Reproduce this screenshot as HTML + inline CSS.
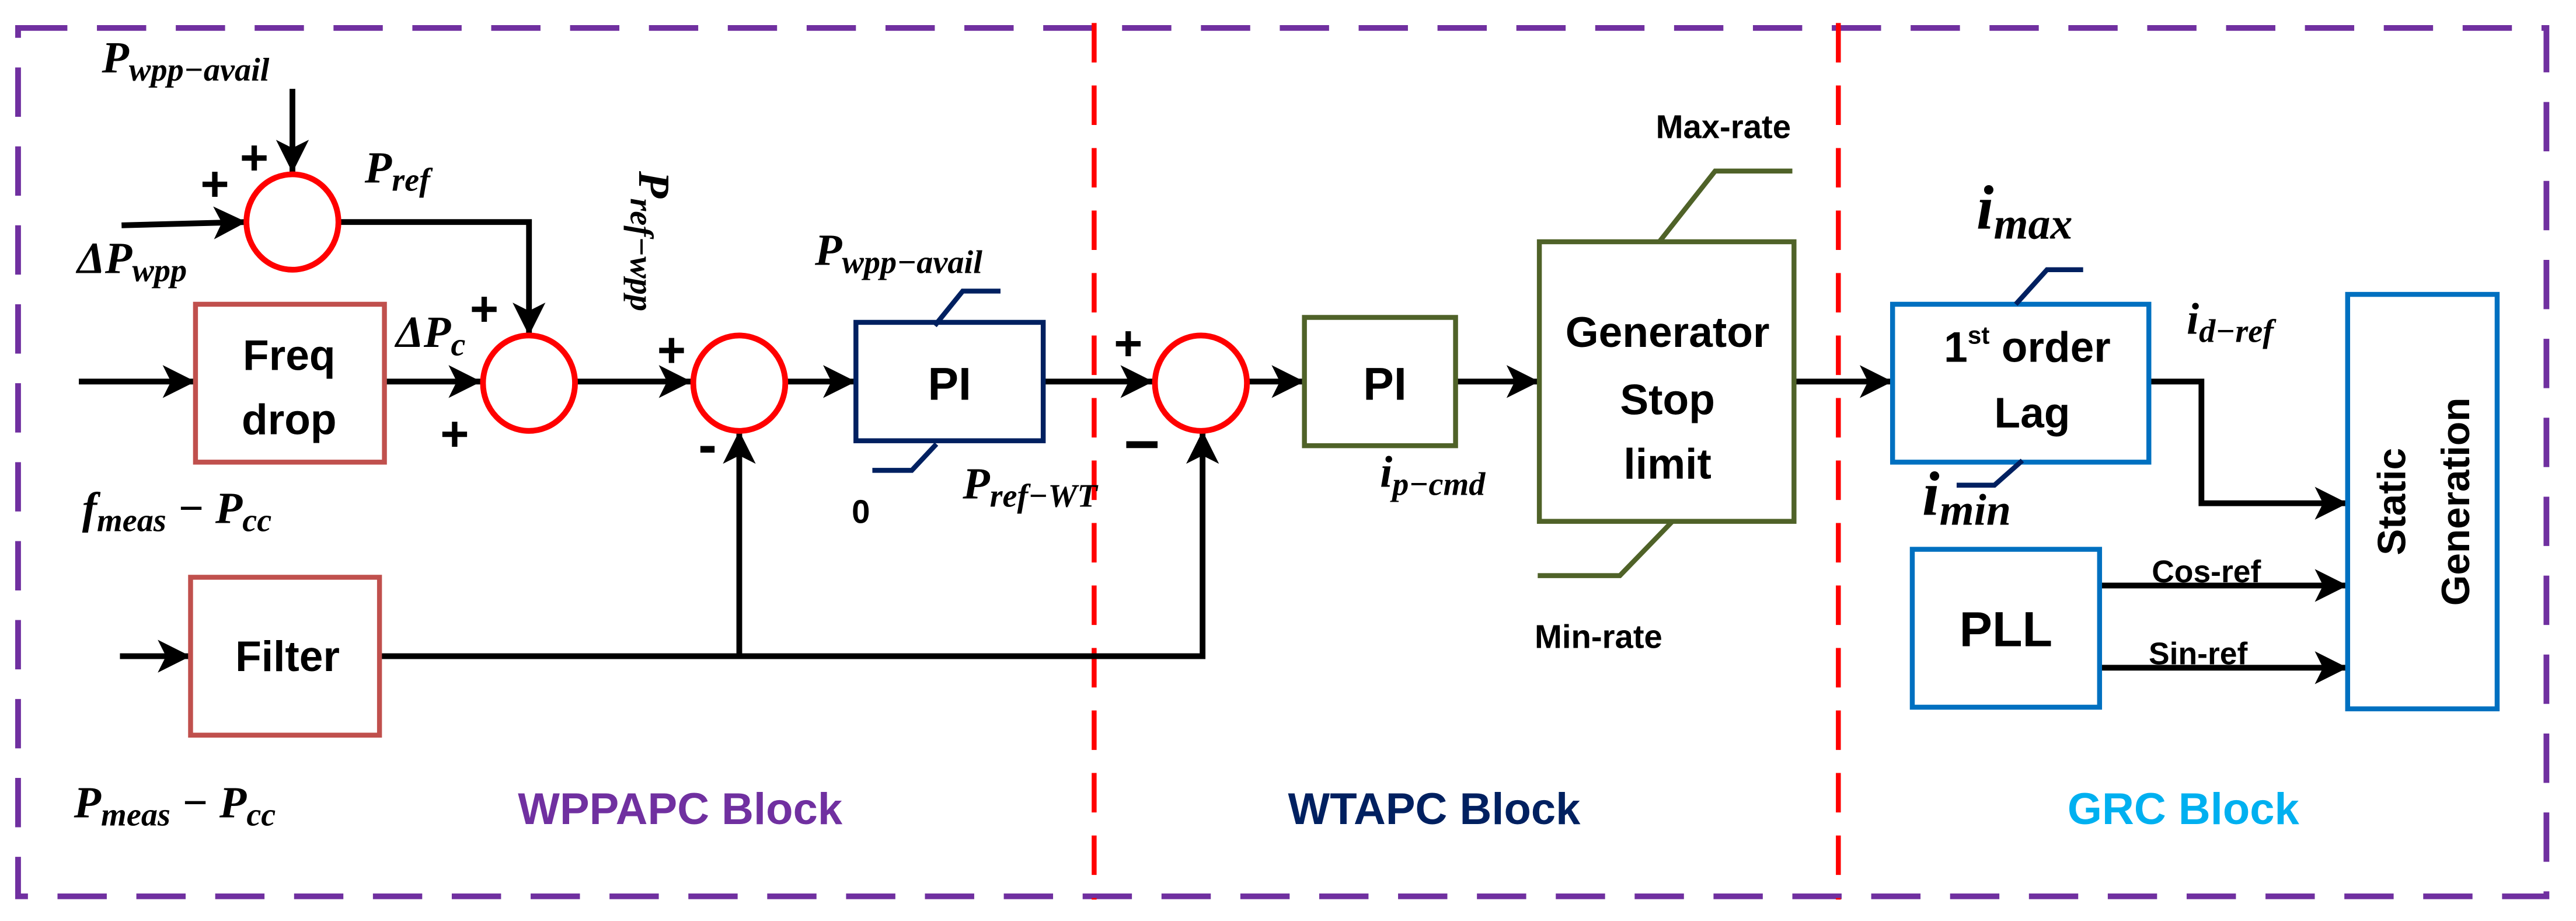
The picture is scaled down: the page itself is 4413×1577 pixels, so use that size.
<!DOCTYPE html>
<html><head><meta charset="utf-8"><style>
html,body{margin:0;padding:0;background:#fff}
svg{display:block}
.m{font-family:"Liberation Serif",serif;font-style:italic;font-weight:bold}
.s{font-family:"Liberation Sans Narrow","Liberation Sans",sans-serif;font-weight:bold}
</style></head><body>
<svg width="4413" height="1577" viewBox="0 0 1568 560" preserveAspectRatio="none" xmlns="http://www.w3.org/2000/svg">
<defs>
<marker id="a" markerUnits="userSpaceOnUse" markerWidth="22" markerHeight="22" refX="20" refY="10" orient="auto">
<path d="M0,0 L20,10 L0,20 L5,10 Z" fill="#000"/></marker>
</defs>
<rect width="1568" height="560" fill="#fff"/>
<!-- outer dashed -->
<rect x="11" y="17" width="1539" height="528" fill="none" stroke="#7030A0" stroke-width="3.5" stroke-dasharray="30,18"/>
<line x1="666" y1="14" x2="666" y2="547" stroke="#FF0000" stroke-width="3" stroke-dasharray="24,14"/>
<line x1="1119" y1="14" x2="1119" y2="547" stroke="#FF0000" stroke-width="3" stroke-dasharray="24,14"/>

<g fill="none" stroke="#000" stroke-width="3.5">
<line x1="178" y1="54" x2="178" y2="105" marker-end="url(#a)"/>
<line x1="74" y1="137" x2="150" y2="135" marker-end="url(#a)"/>
<polyline points="207,135 322,135 322,204" marker-end="url(#a)"/>
<line x1="48" y1="232" x2="119" y2="232" marker-end="url(#a)"/>
<line x1="234" y1="232" x2="293" y2="232" marker-end="url(#a)"/>
<line x1="351" y1="232" x2="421" y2="232" marker-end="url(#a)"/>
<line x1="479" y1="232" x2="521" y2="232" marker-end="url(#a)"/>
<line x1="635" y1="232" x2="702" y2="232" marker-end="url(#a)"/>
<line x1="760" y1="232" x2="794" y2="232" marker-end="url(#a)"/>
<line x1="886" y1="232" x2="937" y2="232" marker-end="url(#a)"/>
<line x1="1092" y1="232" x2="1152" y2="232" marker-end="url(#a)"/>
<line x1="73" y1="399" x2="116" y2="399" marker-end="url(#a)"/>
<polyline points="231,399 732,399 732,262" marker-end="url(#a)"/>
<line x1="450" y1="399" x2="450" y2="262" marker-end="url(#a)"/>
<polyline points="1308,232 1340,232 1340,306 1429,306" marker-end="url(#a)"/>
<line x1="1278" y1="356" x2="1429" y2="356" marker-end="url(#a)"/>
<line x1="1278" y1="406" x2="1429" y2="406" marker-end="url(#a)"/>
</g>

<g fill="#fff" stroke="#FF0000" stroke-width="3.5">
<ellipse cx="178" cy="135" rx="28" ry="29"/>
<ellipse cx="322" cy="233" rx="28" ry="29"/>
<ellipse cx="450" cy="233" rx="28" ry="29"/>
<ellipse cx="731" cy="233" rx="28" ry="29"/>
</g>

<g fill="#fff" stroke-width="3">
<rect x="119" y="185" width="115" height="96" stroke="#C0504D"/>
<rect x="116" y="351" width="115" height="96" stroke="#C0504D"/>
<rect x="521" y="196" width="114" height="72" stroke="#002060"/>
<rect x="794" y="193" width="92" height="78" stroke="#4F6228"/>
<rect x="937" y="147" width="155" height="170" stroke="#4F6228"/>
<rect x="1152" y="185" width="156" height="96" stroke="#0070C0"/>
<rect x="1164" y="334" width="114" height="96" stroke="#0070C0"/>
<rect x="1429" y="179" width="91" height="252" stroke="#0070C0"/>
</g>
<g fill="none" stroke-width="3">
<polyline points="569,198 586,177 609,177" stroke="#002060"/>
<polyline points="570,270 555,286 531,286" stroke="#002060"/>
<polyline points="1010,147 1044,104 1091,104" stroke="#4F6228"/>
<polyline points="1018,317 986,350 936,350" stroke="#4F6228"/>
<polyline points="1227,185 1246,164 1268,164" stroke="#002060"/>
<polyline points="1231,280 1214,295 1191,295" stroke="#002060"/>
</g>

<!-- signs -->
<g class="s" font-size="30" fill="#000">
<text x="122" y="122">+</text><text x="146" y="106">+</text>
<text x="286" y="198">+</text><text x="268" y="274">+</text>
<text x="400" y="223">+</text><text x="425" y="282" font-size="34">-</text>
<text x="678" y="219">+</text><text x="684" y="283" font-size="38">−</text>
</g>

<!-- math labels -->
<g class="m" fill="#000">
<text x="62" y="44" font-size="27">P<tspan font-size="20" dy="5">wpp−avail</tspan></text>
<text x="222" y="111" font-size="27">P<tspan font-size="20" dy="5">ref</tspan></text>
<text x="47" y="166" font-size="27">ΔP<tspan font-size="20" dy="5">wpp</tspan></text>
<text x="241" y="211" font-size="27">ΔP<tspan font-size="20" dy="5">c</tspan></text>
<text x="50" y="318" font-size="27">f<tspan font-size="20" dy="5">meas</tspan><tspan dy="-5"> − P</tspan><tspan font-size="20" dy="5">cc</tspan></text>
<text x="45" y="497" font-size="27">P<tspan font-size="20" dy="5">meas</tspan><tspan dy="-5"> − P</tspan><tspan font-size="20" dy="5">cc</tspan></text>
<text transform="translate(389,104) rotate(90)" font-size="27">P<tspan font-size="20" dy="5">ref−wpp</tspan></text>
<text x="496" y="161" font-size="27">P<tspan font-size="20" dy="5">wpp−avail</tspan></text>
<text x="586" y="303" font-size="27">P<tspan font-size="20" dy="5">ref−WT</tspan></text>
<text x="840" y="296" font-size="27">i<tspan font-size="20" dy="5">p−cmd</tspan></text>
<text x="1203" y="139" font-size="38">i<tspan font-size="27" dy="6">max</tspan></text>
<text x="1170" y="313" font-size="38">i<tspan font-size="27" dy="6">min</tspan></text>
<text x="1331" y="203" font-size="27">i<tspan font-size="20" dy="5">d−ref</tspan></text>
</g>

<!-- box text -->
<g class="s" fill="#000" text-anchor="middle">
<text x="176" y="225" font-size="26">Freq</text>
<text x="176" y="264" font-size="26">drop</text>
<text x="175" y="408" font-size="26">Filter</text>
<text x="578" y="243" font-size="28">PI</text>
<text x="843" y="243" font-size="28">PI</text>
<text x="1015" y="211" font-size="26">Generator</text>
<text x="1015" y="252" font-size="26">Stop</text>
<text x="1015" y="291" font-size="26">limit</text>
<text x="1234" y="220" font-size="26">1<tspan font-size="15" dy="-11">st</tspan><tspan dy="11"> order</tspan></text>
<text x="1237" y="260" font-size="26">Lag</text>
<text x="1221" y="393" font-size="30">PLL</text>
<text x="524" y="318" font-size="20">0</text>
<text x="1049" y="84" font-size="20">Max-rate</text>
<text x="973" y="394" font-size="20">Min-rate</text>
<text x="1343" y="354" font-size="19">Cos-ref</text>
<text x="1338" y="404" font-size="19">Sin-ref</text>
<text transform="translate(1464,305) rotate(-90)" font-size="24" font-family="Liberation Sans">Static</text>
<text transform="translate(1503,305) rotate(-90)" font-size="24" font-family="Liberation Sans">Generation</text>
<text x="414" y="501" font-size="27" fill="#7030A0">WPPAPC Block</text>
<text x="873" y="501" font-size="27" fill="#002060">WTAPC Block</text>
<text x="1329" y="501" font-size="27" fill="#00B0F0">GRC Block</text>
</g>
</svg>
</body></html>
